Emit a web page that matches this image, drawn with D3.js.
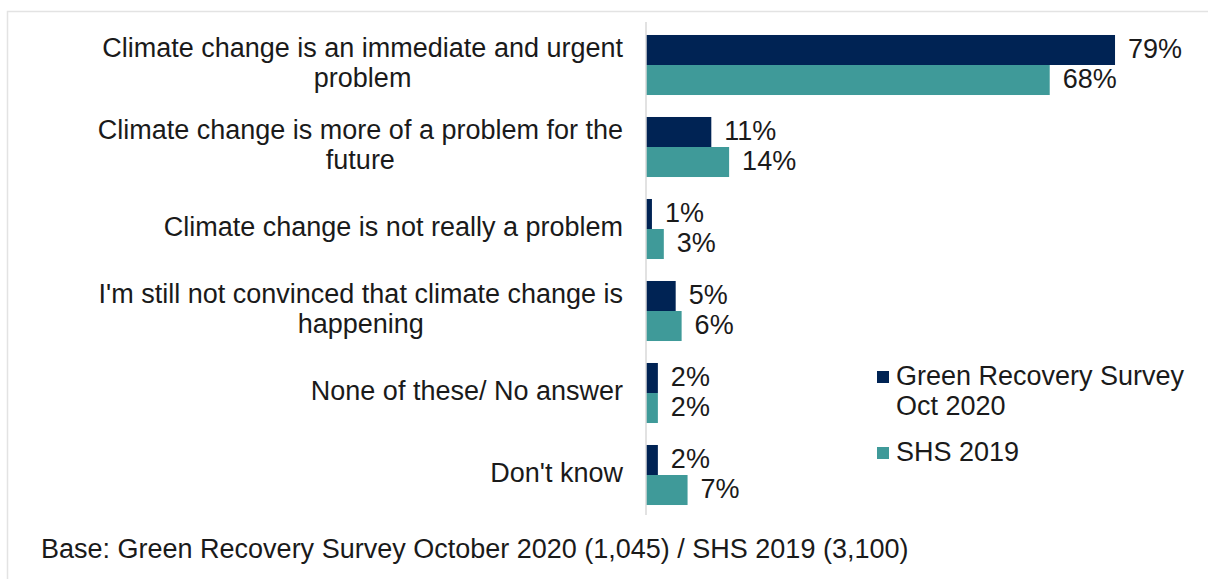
<!DOCTYPE html>
<html>
<head>
<meta charset="utf-8">
<script src="https://cdn.jsdelivr.net/npm/d3@7/dist/d3.min.js"></script>
<style>
  html, body { margin: 0; padding: 0; background: #fff; }
  svg { display: block; font-family: "Liberation Sans", Arial, sans-serif; }
</style>
</head>
<body>
<svg id="chart" width="1208" height="579"></svg>
<script>
// Attitudes to climate change, two surveys compared
const categories = [
  ["Climate change is an immediate and urgent", "problem"],
  ["Climate change is more of a problem for the", "future"],
  ["Climate change is not really a problem"],
  ["I'm still not convinced that climate change is", "happening"],
  ["None of these/ No answer"],
  ["Don't know"]
];
const seriesNames = ["Green Recovery Survey 2020", "SHS 2019"];
const grs2020 = [79, 11, 1, 5, 2, 2];
const shs2019 = [68, 14, 3, 6, 2, 7];
const legendLabels = [["Green Recovery Survey", "Oct 2020"], ["SHS 2019"]];
const footnote = "Base: Green Recovery Survey October 2020 (1,045) / SHS 2019 (3,100)";

const colors = ["#002354", "#3f9a99"];
const textColor = "#1a1a1a";
const fontSize = 27;
const baseShift = "0.3em";

const svg = d3.select("#chart");

// light frame around the chart area
svg.append("path")
  .attr("d", "M7.5,579 V11.5 H1208")
  .attr("fill", "none")
  .attr("stroke", "#e3e3e3")
  .attr("stroke-width", 1.5);

const axisX = 646;
const plotTop = 24, plotBottom = 516;

const x = d3.scaleLinear().domain([0, 100]).range([axisX, axisX + 593.7]);
const y = d3.scaleBand().domain(d3.range(categories.length)).range([plotTop, plotBottom]).paddingInner(0.268).paddingOuter(0.134);
const sub = d3.scaleBand().domain([0, 1]).range([0, y.bandwidth()]);

const rows = categories.map((c, i) => ({ i, lines: c, vals: [grs2020[i], shs2019[i]] }));

const g = svg.append("g");

// bars
rows.forEach(r => {
  r.vals.forEach((v, s) => {
    g.append("rect")
      .attr("x", x(0))
      .attr("y", y(r.i) + sub(s))
      .attr("width", x(v) - x(0))
      .attr("height", sub.bandwidth())
      .attr("fill", colors[s]);
    g.append("text")
      .attr("x", x(v) + 13)
      .attr("y", y(r.i) + sub(s) + sub.bandwidth() / 2)
      .attr("dy", baseShift)
      .attr("font-size", fontSize)
      .attr("fill", textColor)
      .text(v + "%");
  });
});

// vertical axis line
svg.append("line")
  .attr("x1", axisX).attr("x2", axisX)
  .attr("y1", 22).attr("y2", 515)
  .attr("stroke", "#d9d9d9").attr("stroke-width", 1.5);

// category labels: lines centred on each other, block right-aligned at the axis
const labelRight = 623;
const lineGap = 30;
rows.forEach(r => {
  const cy = y(r.i) + y.bandwidth() / 2 - 1;
  const tg = g.append("g");
  const texts = r.lines.map((ln, k) => tg.append("text")
    .attr("font-size", fontSize)
    .attr("fill", textColor)
    .attr("text-anchor", "middle")
    .attr("y", cy + (k - (r.lines.length - 1) / 2) * lineGap)
    .attr("dy", baseShift)
    .text(ln));
  const maxW = d3.max(texts, t => t.node().getComputedTextLength());
  texts.forEach(t => t.attr("x", labelRight - maxW / 2));
});

// legend
const legend = svg.append("g");
const legendY = [377, 453];
legendLabels.forEach((lines, s) => {
  legend.append("rect")
    .attr("x", 877).attr("y", legendY[s] - 6)
    .attr("width", 12).attr("height", 12)
    .attr("fill", colors[s]);
  lines.forEach((ln, k) => legend.append("text")
    .attr("x", 896)
    .attr("y", legendY[s] + k * 30)
    .attr("dy", baseShift)
    .attr("font-size", fontSize)
    .attr("fill", textColor)
    .text(ln));
});

// base note
svg.append("text")
  .attr("x", 41).attr("y", 550)
  .attr("dy", baseShift)
  .attr("font-size", fontSize)
  .attr("fill", textColor)
  .text(footnote);
</script>
</body>
</html>
